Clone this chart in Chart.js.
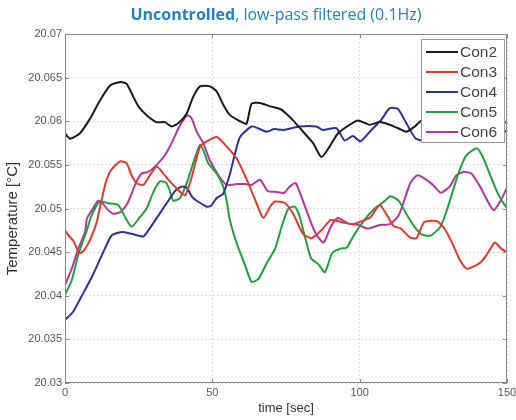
<!DOCTYPE html>
<html>
<head>
<meta charset="utf-8">
<script src="https://cdn.jsdelivr.net/npm/chart.js@4.4.1/dist/chart.umd.min.js"></script>
<style>
  html, body { margin: 0; padding: 0; background: #fff; }
  #wrap { position: relative; width: 516px; height: 420px; }
  #title {
    position: absolute; top: 3px; left: 0; width: 552px; text-align: center;
    font-family: "Open Sans", sans-serif; font-size: 16px; color: #2480c4;
    white-space: nowrap;
  }
  canvas { position: absolute; left: 0; top: 0; }
</style>
</head>
<body>
<div id="wrap">
  <canvas id="c" width="516" height="420"></canvas>
  <div id="title"><b>Uncontrolled</b>, low-pass filtered (0.1Hz)</div>
</div>
<script>
// Axis ranges and tick labels
const xTicks = [0, 50, 100, 150];
const yTicks = [20.03, 20.035, 20.04, 20.045, 20.05, 20.055, 20.06, 20.065, 20.07];
const yTickLabels = ['20.03', '20.035', '20.04', '20.045', '20.05', '20.055', '20.06', '20.065', '20.07'];
const yTitle = 'Temperature [°C]';

const seriesNames = ['Con2', 'Con3', 'Con4', 'Con5', 'Con6'];
const seriesColors = ['#1a1a1a', '#e5372b', '#2e3196', '#20a03e', '#b2369f'];

// Con2 temperature trace [°C] and its sample times [sec]
const con2Time = [0, 1.7, 5, 8.5, 11.9, 15.3, 18.7, 20.9, 22.6, 24.9, 27.7, 31.1, 33.9, 36.2, 38.5, 41.3, 43.5, 45.8, 49.2, 51.5, 53.7, 56, 59.4, 61.6, 63.3, 66.2, 69.6, 73, 75, 77.4, 80.8, 84.2, 87, 89.8, 92.6, 96.6, 99.4, 103.4, 106.8, 110.2, 113, 115.8, 118.7, 121, 125, 130, 135, 140, 145, 150];
const con2 = [20.0586, 20.0580, 20.0586, 20.0603, 20.0624, 20.0641, 20.0645, 20.0643, 20.0632, 20.0617, 20.0607, 20.0599, 20.0599, 20.0594, 20.0598, 20.0609, 20.0628, 20.0640, 20.0640, 20.0634, 20.0619, 20.0607, 20.0600, 20.0597, 20.0620, 20.0621, 20.0617, 20.0614, 20.0609, 20.0601, 20.0588, 20.0575, 20.0559, 20.0571, 20.0586, 20.0596, 20.0601, 20.0596, 20.0599, 20.0596, 20.0592, 20.0588, 20.0594, 20.0601, 20.0604, 20.0603, 20.0598, 20.0594, 20.0592, 20.0588];

// Con3
const con3Time = [0, 1.5, 3, 4.8, 6.2, 7.9, 9.5, 10.8, 12.5, 14.1, 15.8, 18.7, 20.9, 22.6, 24.3, 26.6, 28.8, 31.1, 33.4, 35.6, 37.9, 40.7, 43, 45.8, 48.1, 51.5, 54.9, 58.3, 61.7, 65, 67.3, 69.6, 71.3, 74.7, 77.4, 80.8, 83.7, 87.3, 90.2, 94.3, 97.7, 101.1, 103.7, 106.8, 109.5, 111.5, 114, 117, 119.3, 121.8, 124.3, 126.5, 129, 132, 134, 136.3, 138.4, 141, 143.3, 145.9, 148, 150];
const con3 = [20.0475, 20.0468, 20.0462, 20.0449, 20.0451, 20.0460, 20.0472, 20.0485, 20.0511, 20.0533, 20.0545, 20.0554, 20.0552, 20.0538, 20.0529, 20.0527, 20.0538, 20.0548, 20.0540, 20.0531, 20.0523, 20.0515, 20.0536, 20.0571, 20.0577, 20.0582, 20.0571, 20.0557, 20.0533, 20.0506, 20.0489, 20.0502, 20.0508, 20.0506, 20.0494, 20.0471, 20.0466, 20.0476, 20.0487, 20.0484, 20.0482, 20.0486, 20.0490, 20.0504, 20.0491, 20.0480, 20.0477, 20.0467, 20.0466, 20.0484, 20.0486, 20.0485, 20.0476, 20.0456, 20.0441, 20.0431, 20.0433, 20.0438, 20.0448, 20.0461, 20.0454, 20.0450];

// Con4
const con4Time = [0, 2.8, 6.2, 9.6, 13, 15.8, 19.2, 22.6, 26.6, 28.3, 31.1, 34.5, 37.3, 39.5, 41.2, 43.5, 48.1, 49.5, 51.5, 53.7, 56, 57.7, 59.4, 63.3, 65.5, 68.4, 71, 74, 79.6, 85.3, 87.5, 92.1, 94.9, 97.7, 100.3, 103.7, 107.4, 110.2, 113, 115.8, 118.8, 121, 125, 130, 135, 140, 145, 150];
const con4 = [20.0372, 20.0382, 20.0403, 20.0425, 20.0450, 20.0469, 20.0473, 20.0471, 20.0468, 20.0475, 20.0489, 20.0506, 20.0520, 20.0525, 20.0524, 20.0512, 20.0502, 20.0503, 20.0512, 20.0517, 20.0540, 20.0563, 20.0582, 20.0594, 20.0592, 20.0588, 20.0591, 20.0590, 20.0594, 20.0594, 20.0590, 20.0592, 20.0578, 20.0583, 20.0577, 20.0589, 20.0602, 20.0615, 20.0614, 20.0598, 20.0581, 20.0578, 20.0582, 20.0590, 20.0594, 20.0592, 20.0596, 20.0599];

// Con5
const con5Time = [0, 2.3, 4.5, 6, 7.4, 8.8, 10.3, 11.9, 14.7, 18.1, 20.4, 22.6, 25.4, 27.7, 30, 32.2, 34.2, 35.4, 36.7, 39, 41.3, 43.5, 45.8, 46.9, 48.6, 51.5, 53.7, 54.8, 56, 58.5, 61.1, 63.3, 65.6, 68.4, 71.3, 73.5, 75.8, 78, 79.7, 81.4, 83.5, 86, 88.2, 90.7, 93.5, 95.6, 97.8, 101, 104.5, 107.9, 110.5, 113.2, 115.8, 118.6, 121.2, 124.1, 127.4, 129.4, 131.7, 133.9, 136.2, 139.8, 141.8, 144.1, 146.9, 149, 150];
const con5 = [20.0401, 20.0418, 20.0447, 20.0462, 20.0475, 20.0490, 20.0501, 20.0508, 20.0506, 20.0504, 20.0490, 20.0479, 20.0490, 20.0500, 20.0519, 20.0531, 20.0530, 20.0522, 20.0509, 20.0512, 20.0529, 20.0552, 20.0573, 20.0567, 20.0552, 20.0540, 20.0525, 20.0510, 20.0486, 20.0458, 20.0435, 20.0416, 20.0419, 20.0437, 20.0454, 20.0479, 20.0500, 20.0502, 20.0490, 20.0468, 20.0443, 20.0436, 20.0427, 20.0449, 20.0454, 20.0455, 20.0468, 20.0484, 20.0498, 20.0507, 20.0514, 20.0509, 20.0494, 20.0479, 20.0470, 20.0469, 20.0479, 20.0496, 20.0521, 20.0544, 20.0561, 20.0569, 20.0559, 20.0540, 20.0517, 20.0505, 20.0501];

// Con6
const con6Time = [0, 2.3, 4.3, 6.8, 7.4, 9.1, 11.3, 13, 14.4, 16.4, 18.9, 21.2, 22.6, 24, 26, 28.3, 31.1, 33.9, 36.2, 38.5, 40.1, 41.8, 43, 44.7, 46.9, 49.2, 52.3, 54.9, 58.3, 61.2, 63.3, 66.2, 68.8, 71.8, 74.4, 76.2, 78.3, 80.5, 83, 85.3, 87.8, 90.2, 92.6, 96, 99.6, 102.8, 106.8, 110.2, 113.2, 115.2, 117.3, 119.6, 122.2, 124.9, 127.5, 130.5, 132.8, 135.3, 137.9, 140.7, 143.5, 145.5, 148, 150];
const con6 = [20.0412, 20.0431, 20.0452, 20.0473, 20.0488, 20.0498, 20.0509, 20.0505, 20.0499, 20.0494, 20.0496, 20.0506, 20.0517, 20.0529, 20.0540, 20.0542, 20.0550, 20.0561, 20.0575, 20.0592, 20.0601, 20.0607, 20.0603, 20.0588, 20.0575, 20.0555, 20.0537, 20.0527, 20.0528, 20.0528, 20.0527, 20.0533, 20.0520, 20.0519, 20.0518, 20.0525, 20.0529, 20.0511, 20.0488, 20.0470, 20.0461, 20.0479, 20.0489, 20.0483, 20.0481, 20.0477, 20.0481, 20.0482, 20.0492, 20.0510, 20.0530, 20.0538, 20.0534, 20.0527, 20.0518, 20.0525, 20.0538, 20.0542, 20.0540, 20.0526, 20.0508, 20.0498, 20.0510, 20.0524];

const seriesTimes = [con2Time, con3Time, con4Time, con5Time, con6Time];
const seriesValues = [con2, con3, con4, con5, con6];

const datasets = seriesNames.map((name, i) => ({
  label: name,
  data: seriesTimes[i].map((t, k) => ({ x: t, y: seriesValues[i][k] })),
  borderColor: seriesColors[i],
  backgroundColor: seriesColors[i],
  borderWidth: 2,
  pointRadius: 0,
  tension: 0.2,
  fill: false
}));

const FONT = '"Liberation Sans", Arial, sans-serif';

// Axes box, inward tick marks, y-axis title and the boxed legend in the upper right corner
const frame = {
  id: 'frame',
  afterDatasetsDraw(chart) {
    const { ctx, chartArea: a, scales } = chart;
    ctx.save();
    ctx.strokeStyle = '#8a8a8a';
    ctx.lineWidth = 1;
    ctx.strokeRect(a.left + 0.5, a.top + 0.5, a.right - a.left - 1, a.bottom - a.top - 1);
    ctx.beginPath();
    xTicks.forEach(v => {
      const px = Math.round(scales.x.getPixelForValue(v)) + 0.5;
      ctx.moveTo(px, a.bottom); ctx.lineTo(px, a.bottom - 4);
      ctx.moveTo(px, a.top); ctx.lineTo(px, a.top + 4);
    });
    yTicks.forEach(v => {
      const py = Math.round(scales.y.getPixelForValue(v)) + 0.5;
      ctx.moveTo(a.left, py); ctx.lineTo(a.left + 4, py);
      ctx.moveTo(a.right, py); ctx.lineTo(a.right - 4, py);
    });
    ctx.stroke();

    // y-axis title
    ctx.save();
    ctx.translate(13, (a.top + a.bottom) / 2 + 10);
    ctx.rotate(-Math.PI / 2);
    ctx.font = '15px ' + FONT;
    ctx.fillStyle = '#333';
    ctx.textAlign = 'center';
    ctx.textBaseline = 'middle';
    ctx.fillText(yTitle, 0, 0);
    ctx.restore();

    // legend
    const bw = 83, bh = 103;
    const bx = a.right - 3 - bw, by = a.top + 5;
    ctx.fillStyle = '#fff';
    ctx.fillRect(bx, by, bw, bh);
    ctx.strokeStyle = '#9a9a9a';
    ctx.strokeRect(bx + 0.5, by + 0.5, bw, bh);
    ctx.font = '15.5px ' + FONT;
    ctx.textBaseline = 'middle';
    ctx.textAlign = 'left';
    chart.data.datasets.forEach((ds, i) => {
      const y = by + 13 + i * 20;
      ctx.strokeStyle = ds.borderColor;
      ctx.lineWidth = 2;
      ctx.beginPath();
      ctx.moveTo(bx + 5, y); ctx.lineTo(bx + 37, y);
      ctx.stroke();
      ctx.fillStyle = '#444';
      ctx.fillText(ds.label, bx + 39, y + 1);
    });
    ctx.restore();
  }
};

new Chart(document.getElementById('c'), {
  type: 'line',
  data: { datasets },
  plugins: [frame],
  options: {
    responsive: false,
    animation: false,
    layout: { padding: { top: 34, right: 9, left: 0, bottom: 0 } },
    plugins: { legend: { display: false }, tooltip: { enabled: false }, title: { display: false } },
    scales: {
      x: {
        type: 'linear', min: 0, max: 150,
        afterBuildTicks(s) { s.ticks = xTicks.map(v => ({ value: v })); },
        afterFit(s) { s.height = 37; s.paddingLeft = 0; s.paddingRight = 0; },
        grid: { color: '#dcdcdc', drawTicks: false },
        border: { display: false, dash: [2, 2] },
        ticks: { padding: 3, color: '#555', font: { family: FONT, size: 11 }, maxRotation: 0 },
        title: { display: true, text: 'time [sec]', color: '#333', padding: { top: 0, bottom: 4 }, font: { family: FONT, size: 13 } }
      },
      y: {
        type: 'linear', min: 20.03, max: 20.07,
        afterBuildTicks(s) { s.ticks = yTicks.map(v => ({ value: v })); },
        afterFit(s) { s.width = 65; s.paddingTop = 0; s.paddingBottom = 0; },
        grid: { color: '#dcdcdc', drawTicks: false },
        border: { display: false, dash: [2, 2] },
        ticks: {
          padding: 3, color: '#555', font: { family: FONT, size: 11 },
          callback(v) { const k = yTicks.findIndex(t => Math.abs(t - v) < 1e-9); return k >= 0 ? yTickLabels[k] : ''; }
        },
        title: { display: false }
      }
    }
  }
});
</script>
</body>
</html>
